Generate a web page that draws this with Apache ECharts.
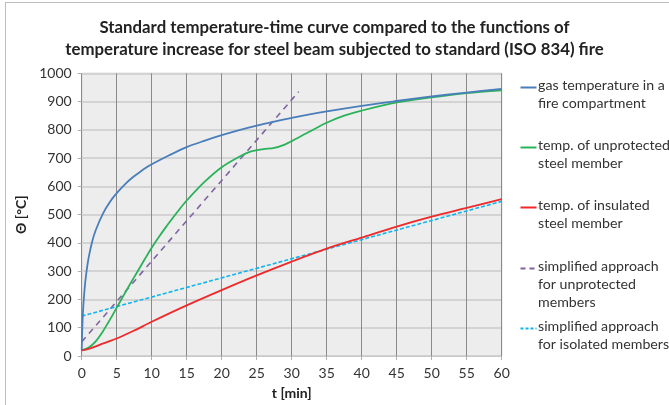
<!DOCTYPE html>
<html>
<head>
<meta charset="utf-8">
<script src="https://cdn.jsdelivr.net/npm/echarts@6/dist/echarts.min.js"></script>
<style>
html,body{margin:0;padding:0;background:#fff;}
#frame{position:absolute;left:5px;top:2px;width:700px;height:440px;border:1px solid #bdbdbd;box-sizing:border-box;}
#chart{position:absolute;left:0;top:0;width:669px;height:405px;}
</style>
</head>
<body>
<div id="frame"></div>
<div id="chart"></div>
<script>
// ---- data ----
const gasTime = [0, 0.1, 0.25, 0.5, 0.75, 1, 1.5, 2, 3, 4, 5, 6, 7, 8, 9, 10, 12.5, 15, 17.5, 20, 22.5, 25, 27.5, 30, 35, 40, 45, 50, 55, 60];
const gasTemp = [20, 110, 185, 260, 310, 349, 405, 445, 502, 544, 576, 603, 626, 645, 663, 678, 710, 739, 761, 781, 799, 815, 829, 842, 865, 885, 902, 918, 932, 945];

const unprotTime = [0, 1, 2, 3, 4, 5, 6, 7, 8, 9, 10, 11, 12, 13, 14, 15, 17.5, 20, 22.5, 24, 25, 26, 27.5, 29, 30, 32.5, 35, 37.5, 40, 45, 50, 55, 60];
const unprotTemp = [20, 30, 52, 86, 127, 171, 215, 258, 300, 342, 383, 420, 455, 488, 520, 550, 615, 668, 705, 722, 728, 732, 736, 748, 760, 793, 825, 850, 868, 897, 915, 930, 940];

const insTime = [0, 1, 2, 3, 5, 7.5, 10, 15, 20, 25, 30, 35, 40, 45, 50, 55, 60];
const insTemp = [20, 25, 34, 44, 62, 90, 121, 179, 233, 285, 334, 380, 419, 458, 493, 524, 555];

const simpUnprotTime = [0, 31];
const simpUnprotTemp = [50, 935];

const simpIsoTime = [0, 60];
const simpIsoTemp = [141, 547];

const xTicks = {min: 0, max: 60, step: 5};
const yTicks = {min: 0, max: 1000, step: 100};

const seriesNames = [
  'gas temperature in a\nfire compartment',
  'temp. of unprotected\nsteel member',
  'temp. of insulated\nsteel member',
  'simplified approach\nfor unprotected\nmembers',
  'simplified approach\nfor isolated members'
];
const titleText = 'Standard temperature-time curve compared to the functions of\ntemperature increase for steel beam subjected to standard (ISO 834) fire';

// ---- build ----
const zip = (a, b) => a.map((v, i) => [v, b[i]]);
const colors = ['#4a7ebb', '#2ab25a', '#f0292a', '#8064a2', '#12b4f0'];
const FONT = 'Lato, "Open Sans", sans-serif';

const chart = echarts.init(document.getElementById('chart'), null, {renderer: 'canvas'});

// custom legend (icon aligned with first text line)
const legendY = [86, 146, 206, 267, 327];
const legendDash = [null, null, null, [5, 4], [3, 2]];
const graphic = [];
seriesNames.forEach((n, i) => {
  graphic.push({
    type: 'line', left: 518, top: legendY[i] - 1,
    shape: {x1: 0, y1: 0, x2: 16, y2: 0},
    style: {stroke: colors[i], lineWidth: 2, lineDash: legendDash[i] || null}
  });
  graphic.push({
    type: 'text', left: 538, top: legendY[i] - 9,
    style: {text: n, font: '14.2px ' + FONT, fill: '#333', lineHeight: 17.8}
  });
});

const grid = {left: 81.7, right: 669 - 501.7, top: 73.3, bottom: 405 - 356.7,
  show: true, backgroundColor: '#ecedec', borderColor: '#b3b3b3', borderWidth: 1};

chart.setOption({
  animation: false,
  title: {
    text: titleText, left: 'center', top: 12,
    textStyle: {fontFamily: FONT, fontWeight: 'bold', fontSize: 16.8, lineHeight: 22, color: '#222'}
  },
  grid: grid,
  graphic: graphic,
  xAxis: {
    type: 'value', min: xTicks.min, max: xTicks.max, interval: xTicks.step,
    name: 't [min]', nameLocation: 'middle', nameGap: 30,
    nameTextStyle: {fontFamily: FONT, fontWeight: 'bold', fontSize: 14, color: '#222'},
    axisLine: {show: true, lineStyle: {color: '#c8c8c8', width: 1}},
    axisTick: {show: true, length: 4, lineStyle: {color: '#b0b0b0'}},
    axisLabel: {fontFamily: FONT, fontSize: 14, color: '#333', margin: 10},
    splitLine: {show: true, lineStyle: {color: '#8a8a8a', width: 1}}
  },
  yAxis: {
    type: 'value', min: yTicks.min, max: yTicks.max, interval: yTicks.step,
    name: 'Θ [°C]', nameLocation: 'middle', nameGap: 50, nameRotate: 90,
    nameTextStyle: {fontFamily: FONT, fontWeight: 'bold', fontSize: 14, color: '#222'},
    axisLine: {show: false},
    axisTick: {show: true, length: 4, lineStyle: {color: '#b0b0b0'}},
    axisLabel: {fontFamily: FONT, fontSize: 14, color: '#333', margin: 10, formatter: v => String(v)},
    splitLine: {show: true, lineStyle: {color: '#d2d3d2', width: 2}}
  },
  series: [
    {name: seriesNames[0], type: 'line', data: zip(gasTime, gasTemp), smooth: 0.3, showSymbol: false,
      lineStyle: {color: colors[0], width: 1.8}, z: 5},
    {name: seriesNames[1], type: 'line', data: zip(unprotTime, unprotTemp), smooth: 0.3, showSymbol: false,
      lineStyle: {color: colors[1], width: 1.8}, z: 4},
    {name: seriesNames[2], type: 'line', data: zip(insTime, insTemp), smooth: 0.3, showSymbol: false,
      lineStyle: {color: colors[2], width: 1.8}, z: 4},
    {name: seriesNames[3], type: 'line', data: zip(simpUnprotTime, simpUnprotTemp), showSymbol: false,
      lineStyle: {color: colors[3], width: 1.6, type: [6, 5]}, z: 3},
    {name: seriesNames[4], type: 'line', data: zip(simpIsoTime, simpIsoTemp), showSymbol: false,
      lineStyle: {color: colors[4], width: 1.6, type: [4, 2]}, z: 3}
  ]
});
</script>
</body>
</html>
